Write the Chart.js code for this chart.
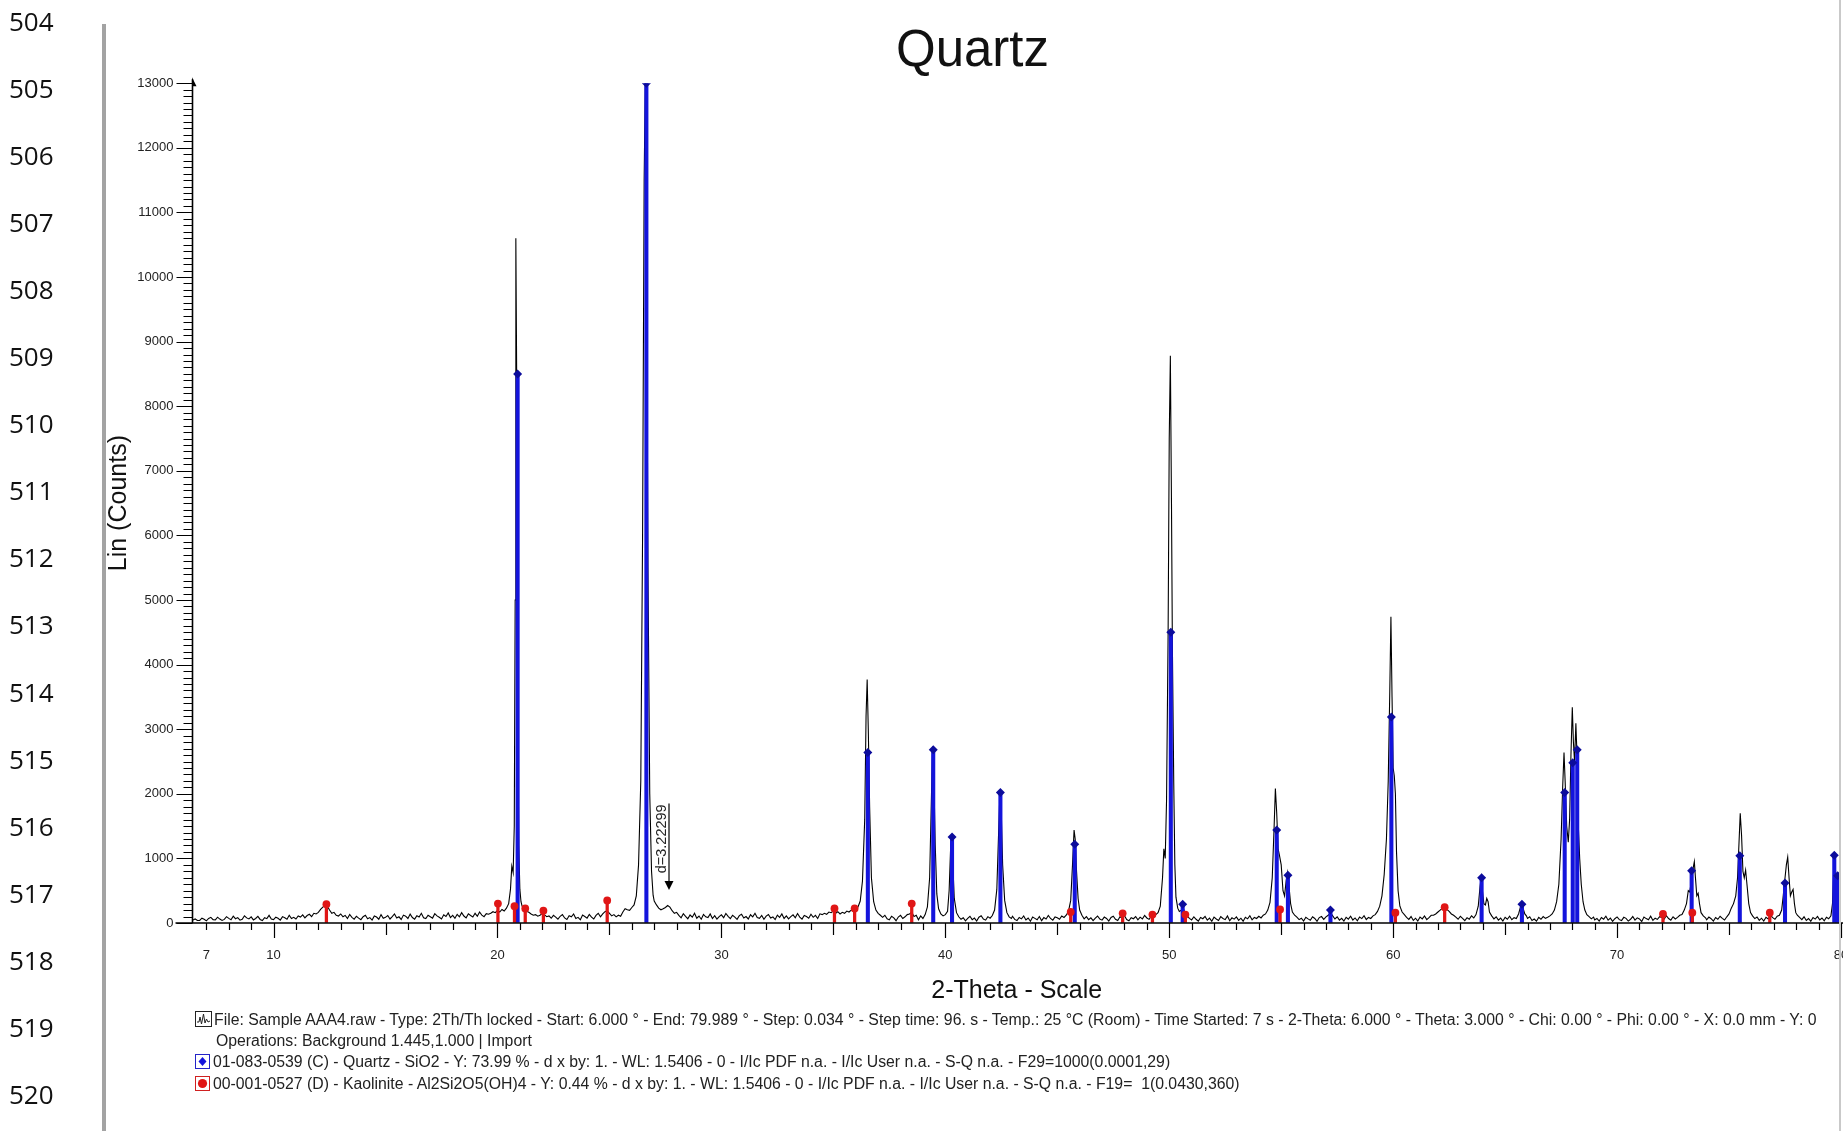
<!DOCTYPE html>
<html>
<head>
<meta charset="utf-8">
<title>Quartz</title>
<script src="https://cdn.jsdelivr.net/npm/chart.js@4.4.1/dist/chart.umd.min.js"></script>
<style>
html, body { margin: 0; padding: 0; background: #fff; overflow: hidden; }
#page { position: relative; width: 1843px; height: 1131px; overflow: hidden; background: #fff; }
#myChart { position: absolute; left: 0; top: 0; }
#bar { position: absolute; left: 102px; top: 24px; width: 4px; height: 1107px; background: #a3a3a3; }
#edge { position: absolute; left: 1839px; top: 0; width: 2px; height: 1131px; background: #c9c9c9; }
.ln { position: absolute; left: 9px; font: 26px 'Open Sans', 'Noto Sans', sans-serif; color: #111; line-height: 30px; }
.leg { position: absolute; font: 15.8px 'Liberation Sans', Arial, sans-serif; color: #222; white-space: pre; line-height: 16px; }
.ico { position: absolute; box-sizing: border-box; background: #fff; }
</style>
</head>
<body>
<div id="page">
  <canvas id="myChart" width="1900" height="1131"></canvas>
  <div id="bar"></div>
  <div id="edge"></div>
  <div id="side"></div>
  <div id="legend"></div>
</div>
<script>
// document line numbers shown left of the picture
const lineNumbers = ['504','505','506','507','508','509','510','511','512','513','514','515','516','517','518','519','520'];

const yTickLabels = [0,1000,2000,3000,4000,5000,6000,7000,8000,9000,10000,11000,12000,13000];
const xTickLabels = [7,10,20,30,40,50,60,70,80];

// 01-083-0539 Quartz sticks
const quartzAngle  = [20.9, 26.65, 36.54, 39.46, 40.3, 42.46, 45.78, 50.07, 50.6, 54.8, 55.3, 57.2, 59.92, 63.95, 65.75, 67.66, 68.02, 68.22, 73.33, 75.48, 77.5, 79.7, 79.85];
const quartzCounts = [8500, 13000, 2640, 2680, 1330, 2020, 1220, 4500, 290, 1440, 740, 200, 3190, 700, 290, 2020, 2480, 2680, 810, 1040, 620, 1050, 730];

// 00-001-0527 Kaolinite sticks
const kaoliniteAngle  = [12.36, 20.02, 20.76, 21.24, 22.05, 24.9, 35.05, 35.95, 38.5, 45.6, 47.92, 49.25, 50.72, 54.95, 60.1, 62.3, 72.05, 73.36, 76.82];
const kaoliniteCounts = [290, 300, 260, 225, 190, 350, 225, 225, 300, 170, 150, 130, 130, 210, 160, 245, 140, 160, 160];

// measured pattern, [2-theta, counts]
const scan = [
[6.4,45],[6.5,62],[6.6,38],[6.7,41],[6.8,75],[6.9,58],
[7.0,33],[7.1,70],[7.2,88],[7.3,52],[7.4,47],[7.5,90],[7.6,61],[7.7,40],[7.8,56],[7.9,98],
[8.0,72],[8.1,50],[8.2,105],[8.3,66],[8.4,84],[8.5,44],[8.6,58],[8.7,112],[8.8,79],[8.9,63],
[9.0,95],[9.1,48],[9.2,70],[9.3,102],[9.4,55],[9.5,38],[9.6,82],[9.7,67],[9.8,118],[9.9,60],
[10.0,52],[10.1,90],[10.2,74],[10.3,45],[10.4,99],[10.5,81],[10.6,57],[10.7,120],[10.8,70],[10.9,88],
[11.0,62],[11.1,108],[11.2,92],[11.3,125],[11.4,80],[11.5,116],[11.6,135],[11.7,98],[11.8,150],[11.9,140],
[12.0,165],[12.1,210],[12.2,245],[12.3,275],[12.4,260],[12.5,200],[12.6,150],[12.7,165],[12.8,120],[12.9,108],
[13.0,140],[13.1,96],[13.2,118],[13.3,70],[13.4,132],[13.5,88],[13.6,60],[13.7,104],[13.8,76],[13.9,52],
[14.0,98],[14.1,120],[14.2,66],[14.3,84],[14.4,45],[14.5,108],[14.6,92],[14.7,58],[14.8,130],[14.9,74],
[15.0,88],[15.1,115],[15.2,62],[15.3,100],[15.4,140],[15.5,78],[15.6,96],[15.7,55],[15.8,122],[15.9,106],
[16.0,70],[16.1,138],[16.2,85],[16.3,60],[16.4,112],[16.5,94],[16.6,150],[16.7,82],[16.8,68],[16.9,120],
[17.0,98],[17.1,76],[17.2,145],[17.3,110],[17.4,88],[17.5,62],[17.6,128],[17.7,100],[17.8,155],[17.9,84],
[18.0,118],[18.1,72],[18.2,134],[18.3,95],[18.4,160],[18.5,108],[18.6,80],[18.7,142],[18.8,116],[18.9,92],
[19.0,150],[19.1,104],[19.2,170],[19.3,122],[19.4,98],[19.5,145],[19.6,135],[19.7,150],[19.8,175],[19.9,160],
[20.0,195],[20.1,170],[20.2,210],[20.3,185],[20.4,230],[20.5,300],[20.58,520],[20.64,880],[20.7,780],[20.75,1500],
[20.79,5000],[20.82,10600],[20.86,8300],[20.9,3800],[20.95,1200],[21.0,520],[21.05,330],[21.1,260],[21.2,230],[21.3,180],
[21.4,165],[21.5,140],[21.6,120],[21.7,130],[21.8,105],[21.9,118],
[22.0,150],[22.1,125],[22.2,98],[22.3,110],[22.4,74],[22.5,118],[22.6,92],[22.7,60],[22.8,104],[22.9,130],
[23.0,78],[23.1,55],[23.2,112],[23.3,96],[23.4,140],[23.5,70],[23.6,88],[23.7,50],[23.8,122],[23.9,100],
[24.0,76],[24.1,134],[24.2,90],[24.3,62],[24.4,118],[24.5,150],[24.6,96],[24.7,140],[24.8,175],[24.9,190],
[25.0,150],[25.1,110],[25.2,130],[25.3,95],[25.4,120],[25.5,105],[25.6,170],[25.7,220],[25.8,205],[25.9,195],
[26.0,240],[26.1,280],[26.2,420],[26.3,900],[26.4,2200],[26.48,6000],[26.55,11500],[26.6,13000],[26.65,11000],[26.72,5500],
[26.8,2000],[26.88,800],[26.95,430],[27.0,340],[27.1,280],[27.2,230],[27.3,205],[27.4,220],[27.5,240],[27.6,270],
[27.7,245],[27.8,190],[27.9,150],[28.0,165],[28.1,118],[28.2,80],[28.3,145],[28.4,102],[28.5,66],[28.6,124],
[28.7,90],[28.8,150],[28.9,74],[29.0,108],[29.1,58],[29.2,132],[29.3,96],[29.4,84],[29.5,140],[29.6,70],
[29.7,112],[29.8,60],[29.9,98],[30.0,126],[30.1,82],[30.2,148],[30.3,104],[30.4,68],[30.5,120],[30.6,92],
[30.7,56],[30.8,114],[30.9,136],[31.0,78],[31.1,100],[31.2,62],[31.3,128],[31.4,95],[31.5,150],[31.6,86],
[31.7,72],[31.8,118],[31.9,58],[32.0,106],[32.1,132],[32.2,76],[32.3,94],[32.4,54],[32.5,122],[32.6,88],
[32.7,140],[32.8,70],[32.9,110],[33.0,64],[33.1,98],[33.2,126],[33.3,80],[33.4,146],[33.5,92],[33.6,60],
[33.7,116],[33.8,100],[33.9,74],[34.0,135],[34.1,88],[34.2,118],[34.3,70],[34.4,142],[34.5,130],[34.6,150],
[34.7,135],[34.8,170],[34.9,160],[35.0,185],[35.1,150],[35.2,175],[35.3,140],[35.4,165],[35.5,150],[35.6,185],
[35.7,170],[35.8,200],[35.9,180],[36.0,210],[36.1,250],[36.2,340],[36.3,650],[36.4,1600],[36.46,3200],[36.51,3770],
[36.56,3000],[36.62,1800],[36.7,700],[36.8,330],[36.9,200],[37.0,150],[37.1,120],[37.2,88],[37.3,120],[37.4,64],
[37.5,48],[37.6,104],[37.7,80],[37.8,36],[37.9,92],[38.0,118],[38.1,70],[38.2,96],[38.3,130],[38.4,140],
[38.5,170],[38.6,100],[38.7,120],[38.8,50],[38.9,110],[39.0,70],[39.1,130],[39.2,250],[39.3,700],[39.37,1800],
[39.43,2730],[39.48,2400],[39.55,1200],[39.62,450],[39.7,220],[39.8,140],[39.9,110],[40.0,130],[40.1,180],[40.17,500],
[40.23,1100],[40.28,1350],[40.33,950],[40.4,380],[40.5,160],[40.6,96],[40.7,58],[40.8,82],[40.9,34],[41.0,70],
[41.1,104],[41.2,52],[41.3,76],[41.4,30],[41.5,90],[41.6,112],[41.7,60],[41.8,44],[41.9,98],[42.0,74],
[42.1,115],[42.2,200],[42.3,520],[42.38,1400],[42.44,2040],[42.5,1700],[42.56,900],[42.65,350],[42.75,160],[42.85,95],
[42.95,70],[43.0,104],[43.1,56],[43.2,38],[43.3,86],[43.4,64],[43.5,110],[43.6,48],[43.7,78],[43.8,28],
[43.9,92],[44.0,72],[44.1,50],[44.2,100],[44.3,36],[44.4,84],[44.5,62],[44.6,116],[44.7,70],[44.8,44],
[44.9,94],[45.0,80],[45.1,58],[45.2,108],[45.3,86],[45.4,120],[45.5,180],[45.6,350],[45.68,900],[45.75,1440],
[45.8,1300],[45.86,800],[45.93,380],[46.0,200],[46.1,120],[46.2,64],[46.3,98],[46.4,52],[46.5,80],[46.6,36],
[46.7,74],[46.8,108],[46.9,60],[47.0,44],[47.1,92],[47.2,70],[47.3,30],[47.4,86],[47.5,104],[47.6,58],
[47.7,40],[47.8,96],[47.9,76],[48.0,112],[48.1,54],[48.2,34],[48.3,82],[48.4,66],[48.5,100],[48.6,48],
[48.7,90],[48.8,62],[48.9,118],[49.0,78],[49.1,56],[49.2,104],[49.3,86],[49.4,130],[49.5,160],[49.6,260],
[49.7,700],[49.76,1150],[49.82,1000],[49.88,1900],[49.95,4500],[50.0,7500],[50.05,8780],[50.1,6500],[50.14,4300],[50.2,2200],
[50.25,900],[50.3,400],[50.38,230],[50.45,180],[50.55,200],[50.62,240],[50.7,150],[50.8,110],[50.9,72],[51.0,48],
[51.1,96],[51.2,58],[51.3,30],[51.4,84],[51.5,66],[51.6,102],[51.7,44],[51.8,76],[51.9,26],[52.0,90],
[52.1,62],[52.2,40],[52.3,98],[52.4,70],[52.5,52],[52.6,108],[52.7,34],[52.8,80],[52.9,60],[53.0,94],
[53.1,42],[53.2,74],[53.3,28],[53.4,88],[53.5,64],[53.6,112],[53.7,50],[53.8,86],[53.9,70],[54.0,104],
[54.1,78],[54.2,120],[54.3,140],[54.4,200],[54.5,320],[54.6,700],[54.68,1450],[54.74,2080],[54.8,1700],[54.86,1150],
[54.92,1050],[55.0,900],[55.08,500],[55.15,420],[55.22,650],[55.28,780],[55.34,600],[55.42,300],[55.5,170],[55.6,120],
[55.7,90],[55.8,52],[55.9,74],[56.0,30],[56.1,88],[56.2,64],[56.3,42],[56.4,96],[56.5,70],[56.6,26],
[56.7,84],[56.8,100],[56.9,56],[57.0,95],[57.1,120],[57.2,160],[57.3,110],[57.4,62],[57.5,96],[57.6,44],
[57.7,72],[57.8,30],[57.9,88],[58.0,60],[58.1,104],[58.2,46],[58.3,78],[58.4,34],[58.5,92],[58.6,68],
[58.7,112],[58.8,54],[58.9,86],[59.0,70],[59.1,110],[59.2,130],[59.3,180],[59.4,260],[59.5,420],[59.6,750],
[59.7,1300],[59.78,2200],[59.85,3600],[59.9,4740],[59.95,3500],[60.0,2400],[60.05,2280],[60.1,2000],[60.15,1100],[60.22,500],
[60.3,260],[60.4,170],[60.5,130],[60.6,88],[60.7,56],[60.8,100],[60.9,40],[61.0,74],[61.1,30],[61.2,92],
[61.3,64],[61.4,110],[61.5,52],[61.6,84],[61.7,120],[61.8,120],[61.9,140],[62.0,170],[62.1,200],[62.2,230],
[62.3,250],[62.4,210],[62.5,180],[62.6,140],[62.7,120],[62.8,90],[62.9,58],[63.0,104],[63.1,72],[63.2,36],
[63.3,82],[63.4,60],[63.5,112],[63.6,78],[63.7,130],[63.8,260],[63.88,560],[63.93,700],[63.98,520],[64.05,300],
[64.12,280],[64.18,380],[64.24,330],[64.3,170],[64.4,110],[64.5,64],[64.6,96],[64.7,44],[64.8,76],[64.9,30],
[65.0,88],[65.1,58],[65.2,104],[65.3,50],[65.4,82],[65.5,70],[65.6,140],[65.68,240],[65.74,300],[65.8,230],
[65.88,140],[65.95,110],[66.0,70],[66.1,96],[66.2,40],[66.3,62],[66.4,28],[66.5,86],[66.6,58],[66.7,100],
[66.8,72],[66.9,90],[67.0,110],[67.1,140],[67.2,200],[67.3,330],[67.4,600],[67.5,1300],[67.57,2100],[67.63,2640],
[67.68,2200],[67.75,1500],[67.82,1250],[67.88,1600],[67.94,2600],[68.0,3340],[68.05,2800],[68.1,2500],[68.16,3090],[68.21,2600],
[68.27,1500],[68.33,1000],[68.4,600],[68.48,330],[68.56,200],[68.65,130],[68.75,100],[68.85,64],[68.95,92],[69.0,48],
[69.1,70],[69.2,30],[69.3,86],[69.4,60],[69.5,104],[69.6,44],[69.7,76],[69.8,26],[69.9,66],[70.0,94],
[70.1,52],[70.2,38],[70.3,88],[70.4,72],[70.5,30],[70.6,58],[70.7,100],[70.8,46],[70.9,80],[71.0,62],
[71.1,24],[71.2,92],[71.3,68],[71.4,50],[71.5,106],[71.6,40],[71.7,74],[71.8,56],[71.9,98],[72.0,84],
[72.1,58],[72.2,112],[72.3,70],[72.4,44],[72.5,96],[72.6,62],[72.7,88],[72.8,120],[72.9,130],[73.0,200],
[73.1,300],[73.18,500],[73.24,480],[73.3,600],[73.38,820],[73.45,950],[73.5,700],[73.56,420],[73.62,460],[73.68,300],
[73.75,160],[73.85,110],[73.95,80],[74.0,50],[74.1,92],[74.2,66],[74.3,30],[74.4,84],[74.5,58],[74.6,104],
[74.7,72],[74.8,46],[74.9,96],[75.0,140],[75.1,230],[75.2,300],[75.3,420],[75.38,700],[75.44,1200],[75.5,1700],
[75.56,1350],[75.62,800],[75.68,700],[75.74,820],[75.8,600],[75.88,300],[75.96,160],[76.05,110],[76.15,68],[76.25,92],
[76.35,40],[76.45,74],[76.55,30],[76.65,88],[76.75,62],[76.85,120],[76.95,84],[77.05,58],[77.15,106],[77.25,120],
[77.35,200],[77.42,420],[77.5,700],[77.56,900],[77.62,1020],[77.68,700],[77.74,420],[77.8,480],[77.86,520],[77.92,300],
[77.98,160],[78.05,120],[78.15,86],[78.25,52],[78.35,96],[78.45,40],[78.55,70],[78.65,28],[78.75,84],[78.85,60],
[78.95,102],[79.05,48],[79.15,78],[79.25,34],[79.35,90],[79.45,66],[79.55,110],[79.62,300],[79.67,800],[79.72,1100],
[79.77,700],[79.82,600],[79.87,780],[79.92,500],[79.97,200],[80.0,120]
];

// d-spacing marker
const dLabel = 'd=3.22299';
const dAngle = 27.66;
const dArrowTop = 1850;
const dArrowTip = 510;
const dTextStart = 770;

const legendLines = [
  'File: Sample AAA4.raw - Type: 2Th/Th locked - Start: 6.000 ° - End: 79.989 ° - Step: 0.034 ° - Step time: 96. s - Temp.: 25 °C (Room) - Time Started: 7 s - 2-Theta: 6.000 ° - Theta: 3.000 ° - Chi: 0.00 ° - Phi: 0.00 ° - X: 0.0 mm - Y: 0',
  'Operations: Background 1.445,1.000 | Import',
  '01-083-0539 (C) - Quartz - SiO2 - Y: 73.99 % - d x by: 1. - WL: 1.5406 - 0 - I/Ic PDF n.a. - I/Ic User n.a. - S-Q n.a. - F29=1000(0.0001,29)',
  '00-001-0527 (D) - Kaolinite - Al2Si2O5(OH)4 - Y: 0.44 % - d x by: 1. - WL: 1.5406 - 0 - I/Ic PDF n.a. - I/Ic User n.a. - S-Q n.a. - F19=  1(0.0430,360)'
];

const quartzColor = '#1414dc';
const quartzMark = '#0c0c9c';
const kaolColor = '#e01616';

// line numbers
var side = document.getElementById('side');
lineNumbers.forEach(function(n, i) {
  let d = document.createElement('div');
  d.className = 'ln';
  d.style.top = (20.5 + i * 67.1 - 15) + 'px';
  d.textContent = n;
  side.append(d);
});

// legend under the plot
var legend = document.getElementById('legend');
const legLeft = [214, 216, 213, 213];
const legTop = [1012, 1033, 1054, 1076];
legendLines.forEach(function(t, i) {
  let d = document.createElement('div');
  d.className = 'leg';
  d.style.left = legLeft[i] + 'px';
  d.style.top = legTop[i] + 'px';
  d.textContent = t;
  legend.append(d);
});
legend.insertAdjacentHTML('beforeend',
  '<svg class="ico" style="left:195px;top:1011px" width="17" height="16"><rect x="0.5" y="0.5" width="16" height="15" fill="#fff" stroke="#222"/>' +
  '<polyline points="2,11 4,11 5,6 6.5,13 8.5,3 10,12 11.5,8 13,11 15,10" fill="none" stroke="#222" stroke-width="1"/></svg>' +
  '<svg class="ico" style="left:195px;top:1054px" width="15" height="15"><rect x="0.5" y="0.5" width="14" height="14" fill="#fff" stroke="#2424c8"/>' +
  '<polygon points="7.5,3 11.5,7.5 7.5,12 3.5,7.5" fill="#1414dc"/></svg>' +
  '<svg class="ico" style="left:195px;top:1076px" width="15" height="15"><rect x="0.5" y="0.5" width="14" height="14" fill="#fff" stroke="#d02020"/>' +
  '<circle cx="7.5" cy="7.5" r="4.6" fill="#e01616"/></svg>');

const toPts = (xs, ys) => xs.map((x, i) => ({ x: x, y: ys[i] }));

const axisMarks = {
  id: 'axisMarks',
  afterDatasetsDraw(chart) {
    const { ctx, chartArea: a, scales: { x, y } } = chart;
    ctx.save();
    ctx.strokeStyle = '#000';
    ctx.fillStyle = '#000';
    ctx.lineWidth = 1.6;
    ctx.beginPath();
    ctx.moveTo(a.left, a.top - 4);
    ctx.lineTo(a.left, a.bottom);
    ctx.moveTo(a.left - 17, a.bottom);
    ctx.lineTo(chart.width, a.bottom);
    ctx.stroke();

    ctx.lineWidth = 1.2;
    ctx.beginPath();
    for (let v = 0; v <= 13000; v += 100) {
      const py = Math.round(y.getPixelForValue(v)) + 0.5;
      const len = v % 1000 === 0 ? 16 : 9;
      ctx.moveTo(a.left - len, py);
      ctx.lineTo(a.left, py);
    }
    for (let v = Math.ceil(x.min); v <= x.max; v++) {
      const px = Math.round(x.getPixelForValue(v)) + 0.5;
      const len = v % 10 === 0 ? 15 : (v % 5 === 0 ? 12 : 7);
      ctx.moveTo(px, a.bottom);
      ctx.lineTo(px, a.bottom + len);
    }
    ctx.stroke();

    // small arrow head at the top of the counts axis
    ctx.beginPath();
    ctx.moveTo(a.left - 0.5, a.top - 6);
    ctx.lineTo(a.left + 4, a.top + 3);
    ctx.lineTo(a.left - 0.5, a.top + 3);
    ctx.closePath();
    ctx.fill();

    // d-spacing marker
    const px = x.getPixelForValue(dAngle);
    const yTop = y.getPixelForValue(dArrowTop);
    const yTip = y.getPixelForValue(dArrowTip);
    ctx.lineWidth = 1.2;
    ctx.beginPath();
    ctx.moveTo(px, yTop);
    ctx.lineTo(px, yTip - 8);
    ctx.stroke();
    ctx.beginPath();
    ctx.moveTo(px - 4.5, yTip - 9);
    ctx.lineTo(px + 4.5, yTip - 9);
    ctx.lineTo(px, yTip);
    ctx.closePath();
    ctx.fill();
    ctx.translate(px - 3, y.getPixelForValue(dTextStart));
    ctx.rotate(-Math.PI / 2);
    ctx.fillStyle = '#222';
    ctx.font = "14.5px 'Liberation Sans', Arial, sans-serif";
    ctx.textBaseline = 'alphabetic';
    ctx.textAlign = 'left';
    ctx.fillText(dLabel, 0, 0);
    ctx.restore();
  }
};

Chart.defaults.font.family = "'Liberation Sans', Arial, sans-serif";
Chart.defaults.color = '#222';

var ctx = document.getElementById('myChart').getContext('2d');
var myChart = new Chart(ctx, {
  type: 'line',
  data: {
    datasets: [
      {
        type: 'scatter',
        label: 'Kaolinite',
        data: toPts(kaoliniteAngle, kaoliniteCounts),
        pointStyle: 'circle',
        pointRadius: 3.9,
        pointBackgroundColor: kaolColor,
        pointBorderWidth: 0,
        order: 0
      },
      {
        type: 'bar',
        label: 'Kaolinite sticks',
        data: toPts(kaoliniteAngle, kaoliniteCounts),
        backgroundColor: kaolColor,
        barThickness: 2.6,
        grouped: false,
        order: 1
      },
      {
        type: 'scatter',
        label: 'Quartz',
        data: toPts(quartzAngle, quartzCounts),
        pointStyle: 'rectRot',
        pointRadius: 4.5,
        pointBackgroundColor: quartzMark,
        pointBorderWidth: 0,
        order: 2
      },
      {
        type: 'bar',
        label: 'Quartz sticks',
        data: toPts(quartzAngle, quartzCounts),
        backgroundColor: quartzColor,
        barThickness: 3.4,
        grouped: false,
        order: 3
      },
      {
        type: 'line',
        label: 'Sample AAA4',
        data: scan.map(p => ({ x: p[0], y: p[1] })),
        borderColor: '#000',
        borderWidth: 1.1,
        pointRadius: 0,
        tension: 0,
        order: 4
      }
    ]
  },
  options: {
    responsive: false,
    animation: false,
    events: [],
    layout: { padding: { left: 104, right: 59, top: 0, bottom: 124 } },
    plugins: {
      legend: { display: false },
      tooltip: { enabled: false },
      title: {
        display: true,
        text: 'Quartz',
        color: '#111',
        font: { size: 51, weight: 'normal' },
        padding: { top: 21, bottom: 1 }
      }
    },
    scales: {
      x: {
        type: 'linear',
        min: 6.38,
        max: 80,
        offset: false,
        border: { display: false },
        grid: { display: true, drawOnChartArea: false, drawTicks: true, tickLength: 22, color: 'rgba(0,0,0,0)' },
        ticks: {
          stepSize: 1,
          includeBounds: false,
          autoSkip: false,
          maxRotation: 0,
          padding: 3,
          color: '#222',
          font: { size: 13 },
          callback: v => xTickLabels.includes(v) ? String(v) : ''
        },
        title: {
          display: true,
          text: '2-Theta - Scale',
          color: '#111',
          font: { size: 25 },
          padding: { top: 0, bottom: 1 }
        },
        afterFit: s => { s.height = 84; }
      },
      y: {
        min: 0,
        max: 13000,
        border: { display: false },
        grid: { display: true, drawOnChartArea: false, drawTicks: true, tickLength: 19, color: 'rgba(0,0,0,0)' },
        ticks: {
          stepSize: 1000,
          padding: 0,
          color: '#222',
          font: { size: 13 },
          callback: v => yTickLabels.includes(v) ? String(v) : ''
        },
        title: {
          display: true,
          text: 'Lin (Counts)',
          color: '#111',
          font: { size: 25 },
          padding: { top: 0, bottom: 0 }
        },
        afterFit: s => { s.width = 88.5; }
      }
    }
  },
  plugins: [axisMarks]
});
</script>
</body>
</html>
